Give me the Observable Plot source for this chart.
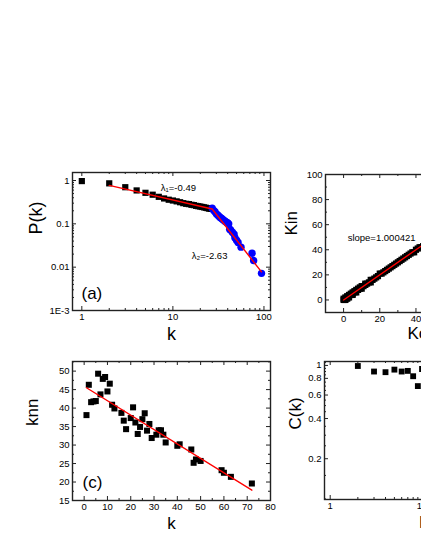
<!DOCTYPE html>
<html><head><meta charset="utf-8">
<script src="https://cdn.jsdelivr.net/npm/d3@7"></script>
<script src="https://cdn.jsdelivr.net/npm/@observablehq/plot@0.6"></script>
<style>
body{margin:0;background:#fff;}
#fig{position:relative;width:421px;height:545px;overflow:hidden;background:#fff;}
#fig svg{position:absolute;}
</style></head><body><div id="fig"></div>
<script>
// ---------- Panel (a): degree distribution ----------
const aBlackK = [1,2,3,4,5,6,7,8,9,10,11,12,13,14,15,16,17,18,19,20,21,22,23,24,25,26];
const aBlackP = [0.97,0.86,0.70,0.59,0.52,0.47,0.42,0.385,0.36,0.345,0.33,0.315,0.30,0.29,0.285,0.275,0.27,0.26,0.255,0.25,0.245,0.24,0.235,0.23,0.225,0.222];
const aBlueK = [27,28,29,30,31,32,33,34,35,36,37,38,39,40,41,42,43,45,47,48,50,52,56,74,77,94];
const aBlueP = [0.23,0.205,0.19,0.17,0.16,0.15,0.14,0.135,0.128,0.122,0.117,0.112,0.108,0.105,0.1,0.075,0.072,0.064,0.058,0.048,0.042,0.037,0.029,0.021,0.0142,0.0072];
const aFitK = [2, 27, 94];
const aFitP = [0.77, 0.22, 0.0078];
const aNotes = [{x: 11.5, y: 0.69, t: "λ₁=-0.49"}, {x: 25.3, y: 0.0179, t: "λ₂=-2.63"}];
const aXMajor = [1, 10, 100];
const aXMinor = [2,3,4,5,6,7,8,9,20,30,40,50,60,70,80,90];
const aYMajor = [0.001, 0.01, 0.1, 1];
const aYMinor = [0.002,0.003,0.004,0.005,0.006,0.007,0.008,0.009,0.02,0.03,0.04,0.05,0.06,0.07,0.08,0.09,0.2,0.3,0.4,0.5,0.6,0.7,0.8,0.9];

// ---------- Panel (b): Kin vs Kout ----------
const bKout = [0,0,1,1,1,2,2,2,3,3,3,4,4,5,5,5,6,6,7,7,8,8,9,9,10,10,11,12,12,13,14,15,15,16,17,18,19,20,21,22,23,24,25,26,27,28,29,30,31,32,33,34,35,36,37,38,39,40,41,42,43,44,45,46,47];
const bKin  = [0,1,0,1,2,1,2,3,2,3,4,4,5,4,5,6,6,7,6,8,8,9,9,10,9,11,11,12,13,13,14,14,16,16,17,18,19,21,21,22,23,24,25,26,27,28,29,30,31,32,33,34,35,36,37,38,38,40,41,42,42,43,44,45,46];
const bFitX = [0, 48];
const bFitY = [0, 48.02];
const bNotes = [{x: 21, y: 49.7, t: "slope=1.000421"}];
const bMajor = [0,20,40,60,80,100];
const bMinor = [-10,10,30,50,70,90];

// ---------- Panel (c): knn vs k ----------
const cK = [1,2,3,4,5,6,7,8,9,10,11,12,13,16,17,18,20,21,22,23,24,25,26,27,28,29,31,32,33,34,35,40,41,46,47,48,50,59,60,63,72];
const cKnn = [38.1,46.3,41.6,41.8,41.9,49.3,43.7,47.9,48.4,44.5,46.6,40.9,39.9,38.7,36.6,34.3,37.3,40.2,36.1,33.0,34.9,37.0,38.6,33.9,35.7,31.9,32.8,34.0,34.0,32.8,30.7,29.8,30.2,28.8,25.2,26.1,25.7,23.2,22.5,21.4,19.6];
const cFitK = [1, 72];
const cFitKnn = [45.5, 17.8];
const cXMajor = [0,10,20,30,40,50,60,70,80];
const cXMinor = [-5,5,15,25,35,45,55,65,75];
const cYMajor = [15,20,25,30,35,40,45,50];
const cYMinor = [17.5,22.5,27.5,32.5,37.5,42.5,47.5,52.5];

// ---------- Panel (d): C(k) ----------
const dK = [2,3,4,5,6,7,8,9,10];
const dC = [0.99,0.90,0.89,0.93,0.90,0.91,0.83,0.70,0.94];
const dXMajor = [1, 10, 100];
const dXMinor = [2,3,4,5,6,7,8,9,20,30,40,50,60,70,80,90];
const dYMajor = [0.2, 0.4, 0.6, 0.8, 1];
const dYMinor = [0.1,0.15,0.25,0.3,0.35,0.45,0.5,0.55,0.65,0.7,0.75,0.85,0.9,0.95,1.05];

// ---------- helpers ----------
const FONT = "'Liberation Sans', Arial, Helvetica, sans-serif";
const INK = "#222";
const fig = document.getElementById("fig");
const zip = (xs, ys, kx, ky) => xs.map((v, i) => ({[kx]: v, [ky]: ys[i]}));

function tickMarks(values, axis, len, innerW, innerH) {
  const o = {stroke: INK, strokeWidth: 1};
  if (axis === "x") return [
    Plot.tickX(values, {...o, x: d => d, insetTop: innerH - len}),
    Plot.tickX(values, {...o, x: d => d, insetBottom: innerH - len})
  ];
  return [
    Plot.tickY(values, {...o, y: d => d, insetRight: innerW - len}),
    Plot.tickY(values, {...o, y: d => d, insetLeft: innerW - len})
  ];
}

function panel(cfg) {
  const {left, top, width, height, mL, mT, mR, mB} = cfg;
  const innerW = width - mL - mR, innerH = height - mT - mB;
  const within = dom => v => v >= Math.min(...dom) - 1e-9 && v <= Math.max(...dom) + 1e-9;
  const inX = within(cfg.x.domain), inY = within(cfg.y.domain);
  const titleStyle = {fontSize: cfg.titleSize || 17, fill: "#000", text: d => d};
  const marks = [
    ...cfg.marks,
    ...tickMarks(cfg.xMinor.filter(inX), "x", 2, innerW, innerH),
    ...tickMarks(cfg.xMajor.filter(inX), "x", 4, innerW, innerH),
    ...tickMarks(cfg.yMinor.filter(inY), "y", 2, innerW, innerH),
    ...tickMarks(cfg.yMajor.filter(inY), "y", 4, innerW, innerH),
    Plot.axisX({ticks: cfg.xMajor.filter(inX), tickSize: 0, tickPadding: 3, tickFormat: cfg.xFormat, label: null, fill: "#000"}),
    Plot.axisY({ticks: cfg.yMajor.filter(inY), tickSize: 0, tickPadding: 3, tickFormat: cfg.yFormat, label: null, fill: "#000"}),
    Plot.frame({stroke: INK, strokeWidth: 1.4}),
    Plot.text([cfg.yTitle], {...titleStyle, frameAnchor: "left", rotate: -90, dx: cfg.yTitleDx, dy: cfg.yTitleDy}),
    Plot.text([cfg.xTitle], {...titleStyle, frameAnchor: "bottom", lineAnchor: "bottom", dy: cfg.xTitleDy})
  ];
  if (cfg.tag) marks.push(Plot.text([cfg.tag], {text: d => d, fontSize: 17, fill: "#000", frameAnchor: "bottom-left", textAnchor: "start", lineAnchor: "bottom", dx: cfg.tagDx, dy: cfg.tagDy}));
  const svg = Plot.plot({
    width, height, marginLeft: mL, marginTop: mT, marginRight: mR, marginBottom: mB,
    x: {...cfg.x, axis: null},
    y: {...cfg.y, axis: null},
    style: {fontFamily: FONT, fontSize: "9.5px", color: "#000", background: "transparent", maxWidth: "none", overflow: "visible"},
    marks
  });
  svg.style.left = left + "px";
  svg.style.top = top + "px";
  fig.appendChild(svg);
}

const numFmt = d => String(d);

// (a)
panel({
  left: 0, top: 160, width: 290, height: 190, mL: 72, mT: 12, mR: 20, mB: 40,
  x: {type: "log", domain: [0.79, 118]},
  y: {type: "log", domain: [0.001, 1.53]},
  xMajor: aXMajor, xMinor: aXMinor, yMajor: aYMajor, yMinor: aYMinor,
  xFormat: numFmt, yFormat: d => d === 0.001 ? "1E-3" : String(d),
  yTitle: "P(k)", yTitleDx: -36, yTitleDy: -7, titleSize: 18,
  xTitle: "k", xTitleDy: 29,
  tag: "(a)", tagDx: 9, tagDy: -12,
  marks: [
    Plot.dot(zip(aBlackK, aBlackP, "k", "p"), {x: "k", y: "p", symbol: "square", r: 3.5, fill: "#000"}),
    Plot.dot(zip(aBlueK, aBlueP, "k", "p"), {x: "k", y: "p", r: 3.7, fill: "#0000ff"}),
    Plot.line(zip(aFitK, aFitP, "k", "p"), {x: "k", y: "p", stroke: "#ff0000", strokeWidth: 1.4}),
    Plot.text(aNotes, {x: "x", y: "y", text: "t", fontSize: 9.5, fill: "#000"})
  ]
});

// (b)
panel({
  left: 270, top: 160, width: 300, height: 190, mL: 55, mT: 14, mR: 46, mB: 38,
  x: {domain: [-10, 100]},
  y: {domain: [-10, 100]},
  xMajor: bMajor, xMinor: bMinor, yMajor: bMajor, yMinor: bMinor,
  xFormat: numFmt, yFormat: numFmt,
  yTitle: "Kin", yTitleDx: -34, yTitleDy: -8,
  xTitle: "Kout", xTitleDy: 26,
  marks: [
    Plot.dot(zip(bKout, bKin, "x", "y"), {x: "x", y: "y", symbol: "square", r: 3.5, fill: "#000"}),
    Plot.line(zip(bFitX, bFitY, "x", "y"), {x: "x", y: "y", stroke: "#ff0000", strokeWidth: 1.4}),
    Plot.text(bNotes, {x: "x", y: "y", text: "t", fontSize: 9.5, fill: "#000"})
  ]
});

// (c)
panel({
  left: 0, top: 350, width: 290, height: 195, mL: 72, mT: 11, mR: 20, mB: 45,
  x: {domain: [-5, 80]},
  y: {domain: [15, 52.6]},
  xMajor: cXMajor, xMinor: cXMinor, yMajor: cYMajor, yMinor: cYMinor,
  xFormat: numFmt, yFormat: numFmt,
  yTitle: "knn", yTitleDx: -40, yTitleDy: -5,
  xTitle: "k", xTitleDy: 28,
  tag: "(c)", tagDx: 10, tagDy: -13,
  marks: [
    Plot.dot(zip(cK, cKnn, "k", "v"), {x: "k", y: "v", symbol: "square", r: 3.4, fill: "#000"}),
    Plot.line(zip(cFitK, cFitKnn, "k", "v"), {x: "k", y: "v", stroke: "#ff0000", strokeWidth: 1.4})
  ]
});

// (d)
panel({
  left: 270, top: 350, width: 300, height: 195, mL: 54, mT: 11, mR: 48, mB: 46,
  x: {type: "log", domain: [0.867, 124]},
  y: {type: "log", domain: [0.099, 1.07]},
  xMajor: dXMajor, xMinor: dXMinor, yMajor: dYMajor, yMinor: dYMinor,
  xFormat: numFmt, yFormat: numFmt,
  yTitle: "C(k)", yTitleDx: -29, yTitleDy: -1,
  xTitle: "k", xTitleDy: 28,
  marks: [
    Plot.dot(zip(dK, dC, "k", "c"), {x: "k", y: "c", symbol: "square", r: 3.3, fill: "#000"})
  ]
});
</script>
</body></html>
